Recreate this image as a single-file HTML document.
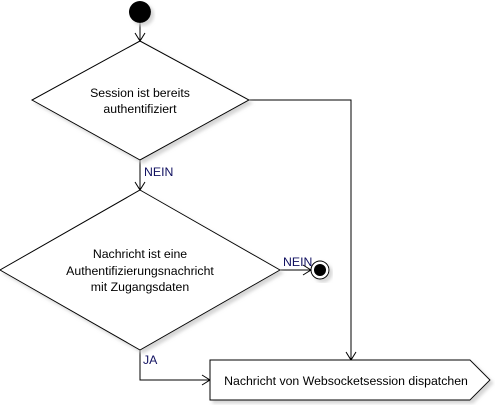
<!DOCTYPE html>
<html><head><style>body{margin:0;background:#fff}svg{display:block}text{font-family:"Liberation Sans",Arial,sans-serif;font-size:12.3px}</style></head><body>
<svg width="495" height="405" viewBox="0 0 495 405" xmlns="http://www.w3.org/2000/svg">
<defs><filter id="s" x="-10%" y="-10%" width="130%" height="130%"><feOffset dx="3" dy="3"/><feGaussianBlur stdDeviation="1.5"/><feColorMatrix values="0 0 0 0 0.6 0 0 0 0 0.6 0 0 0 0 0.6 0 0 0 0.8 0"/><feMerge><feMergeNode/><feMergeNode in="SourceGraphic"/></feMerge></filter></defs>
<g stroke="#000" fill="none" stroke-width="1">
<line x1="140" y1="22" x2="140" y2="41"/><polyline points="135,33 140,41 145,33"/>
<line x1="140" y1="160" x2="140" y2="190"/><polyline points="135,182 140,190 145,182"/>
<polyline points="249,100 351,100 351,360"/><polyline points="346,352 351,360 356,352"/>
<line x1="280" y1="270" x2="311" y2="270"/><polyline points="303,265 311,270 303,275"/>
<polyline points="140,350 140,380 210,380"/><polyline points="202,375 210,380 202,385"/>
</g>
<circle cx="140" cy="12" r="11" fill="#000" filter="url(#s)"/>
<polygon points="140,41 249,100 140,160 32,100" fill="#fff" stroke="#000" filter="url(#s)"/>
<polygon points="140,190 280,270 140,350 0,270" fill="#fff" stroke="#000" filter="url(#s)"/>
<circle cx="320" cy="270" r="9" fill="#fff" stroke="#000" filter="url(#s)"/>
<circle cx="320" cy="270" r="6" fill="#000"/>
<polygon points="210,360 470,360 490,380 470,400 210,400" fill="#fff" stroke="#000" filter="url(#s)"/>
<text x="140" y="97" text-anchor="middle">Session ist bereits</text>
<text x="140" y="113" text-anchor="middle">authentifiziert</text>
<text x="140" y="258" text-anchor="middle">Nachricht ist eine</text>
<text x="140" y="275" text-anchor="middle">Authentifizierungsnachricht</text>
<text x="140" y="291" text-anchor="middle">mit Zugangsdaten</text>
<text x="346" y="385" text-anchor="middle">Nachricht von Websocketsession dispatchen</text>
<text x="144" y="176" fill="#101060">NEIN</text>
<text x="283" y="266" fill="#101060">NEIN</text>
<text x="143" y="364" fill="#101060">JA</text>
</svg>
</body></html>
